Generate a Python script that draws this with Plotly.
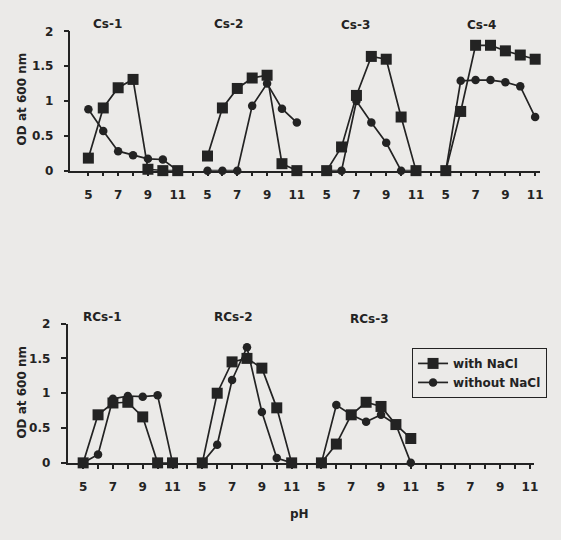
import plotly.graph_objects as go

# ---------------- data ----------------
ph = [5, 6, 7, 8, 9, 10, 11]
ph_ticks = [5, 7, 9, 11]

top_names = ["Cs-1", "Cs-2", "Cs-3", "Cs-4"]
bottom_names = ["RCs-1", "RCs-2", "RCs-3"]

cs1_with = [0.18, 0.90, 1.19, 1.31, 0.02, 0.0, 0.0]
cs1_without = [0.88, 0.57, 0.28, 0.22, 0.17, 0.16, 0.0]
cs2_with = [0.21, 0.90, 1.18, 1.33, 1.37, 0.10, 0.0]
cs2_without = [0.0, 0.0, 0.0, 0.93, 1.25, 0.89, 0.69]
cs3_with = [0.0, 0.34, 1.08, 1.64, 1.60, 0.77, 0.0]
cs3_without = [0.0, 0.0, 1.00, 0.69, 0.40, 0.0, 0.0]
cs4_with = [0.0, 0.85, 1.80, 1.80, 1.72, 1.66, 1.60]
cs4_without = [0.0, 1.29, 1.30, 1.30, 1.27, 1.21, 0.77]

rcs1_with = [0.0, 0.69, 0.86, 0.87, 0.66, 0.0, 0.0]
rcs1_without = [0.0, 0.12, 0.92, 0.96, 0.95, 0.97, 0.0]
rcs2_with = [0.0, 1.00, 1.45, 1.50, 1.36, 0.79, 0.0]
rcs2_without = [0.0, 0.26, 1.19, 1.66, 0.73, 0.07, 0.0]
rcs3_with = [0.0, 0.27, 0.69, 0.87, 0.81, 0.55, 0.35]
rcs3_without = [0.0, 0.83, 0.69, 0.59, 0.69, 0.55, 0.0]

y_ticks = [0, 0.5, 1, 1.5, 2]
y_ticktext = ["0", "0.5", "1", "1.5", "2"]

series_with_label = "with NaCl"
series_without_label = "without NaCl"
y_title = "OD at 600 nm"
x_title = "pH"

top_with = [cs1_with, cs2_with, cs3_with, cs4_with]
top_without = [cs1_without, cs2_without, cs3_without, cs4_without]
bottom_with = [rcs1_with, rcs2_with, rcs3_with]
bottom_without = [rcs1_without, rcs2_without, rcs3_without]

# ---------------- layout helpers ----------------
W, H = 561, 540
BG = "#ebeae8"
INK = "#232323"
FAMILY = "DejaVu Sans, Verdana, sans-serif"
FONT = dict(family=FAMILY, size=12, color=INK, weight="bold")
PX = 15.0  # pixels per pH unit


def fx(px):
    return px / W


def fy(py):
    return 1 - py / H


fig = go.Figure()

panels = [
    dict(left=71, start=3.8, top=25, bottom=168),
    dict(left=68, start=3.95, top=325, bottom=468),
]

layout = dict(
    width=W, height=H,
    margin=dict(l=0, r=0, t=0, b=0),
    paper_bgcolor=BG, plot_bgcolor=BG,
    font=FONT,
    showlegend=True,
)

axis_base = dict(
    showgrid=False, zeroline=False, showline=True, linecolor=INK, linewidth=1.5,
    ticks="outside", ticklen=4, tickwidth=1.5, tickcolor=INK,
    tickfont=dict(FONT),
    fixedrange=True,
)

ax_i = 0
for p_idx, pan in enumerate(panels):
    yname = "yaxis" if p_idx == 0 else "yaxis2"
    yref = "y" if p_idx == 0 else "y2"
    x0 = pan["left"]
    for g in range(4):
        ax_i += 1
        start = pan["start"] if g == 0 else 4
        end = 12 if g < 3 else 11.3
        width_px = (end - start) * PX
        xname = "xaxis" if ax_i == 1 else f"xaxis{ax_i}"
        tv = list(range(5 if g == 0 else 4, 12))
        tt = [str(v) if v in ph_ticks else "" for v in tv]
        layout[xname] = dict(
            axis_base,
            domain=[fx(x0), fx(x0 + width_px)],
            range=[start, end],
            anchor=yref,
            tickvals=tv, ticktext=tt,
            ticklabelstandoff=8,
        )
        x0 += width_px
    layout[yname] = dict(
        axis_base,
        domain=[fy(pan["bottom"]), fy(pan["top"])],
        range=[0, 2],
        anchor="x" if p_idx == 0 else "x5",
        tickvals=y_ticks, ticktext=y_ticktext,
        ticklen=5,
        ticklabelstandoff=8,
    )

fig.update_layout(**layout)


def add_pair(xref, yref, with_vals, without_vals, show):
    fig.add_trace(go.Scatter(
        x=ph, y=without_vals, xaxis=xref, yaxis=yref, mode="lines+markers",
        name=series_without_label, legendgroup="without", showlegend=show, legendrank=2,
        line=dict(color=INK, width=1.7),
        marker=dict(symbol="circle", size=8.5, color=INK),
        cliponaxis=False,
    ))
    fig.add_trace(go.Scatter(
        x=ph, y=with_vals, xaxis=xref, yaxis=yref, mode="lines+markers",
        name=series_with_label, legendgroup="with", showlegend=show, legendrank=1,
        line=dict(color=INK, width=1.7),
        marker=dict(symbol="square", size=11, color=INK),
        cliponaxis=False,
    ))


for g in range(4):
    xref = "x" if g == 0 else f"x{g + 1}"
    add_pair(xref, "y", top_with[g], top_without[g], g == 0)
for g in range(3):
    xref = f"x{g + 5}"
    add_pair(xref, "y2", bottom_with[g], bottom_without[g], False)

# empty fourth group of the lower panel (axis only, no data)
fig.add_trace(go.Scatter(x=[], y=[], xaxis="x8", yaxis="y2", mode="lines",
                         showlegend=False, hoverinfo="skip"))


def note(text, px, py, angle=0):
    return dict(text=text, x=fx(px), y=fy(py), xref="paper", yref="paper",
                xanchor="center", yanchor="middle", showarrow=False,
                textangle=angle, font=dict(FONT))


annotations = []
top_title_px = [(108, 17), (230, 17), (358, 18), (485, 18)]
for name, (px, py) in zip(top_names, top_title_px):
    annotations.append(note(name, px, py))
bottom_title_px = [(103, 318), (235, 318), (372, 320)]
for name, (px, py) in zip(bottom_names, bottom_title_px):
    annotations.append(note(name, px, py))
for py in (94, 395):
    annotations.append(note(y_title, 22, py, -90))
annotations.append(note(x_title, 302, 520))

fig.update_layout(
    annotations=annotations,
    legend=dict(
        x=fx(415), y=fy(350), xanchor="left", yanchor="top",
        bgcolor=BG, bordercolor=INK, borderwidth=1,
        font=dict(FONT), tracegroupgap=0, itemwidth=30,
    ),
)

fig.write_html(
    "out.html",
    config={"displayModeBar": False},
    post_script="document.body.style.margin='0';document.body.style.overflow='hidden';",
)
